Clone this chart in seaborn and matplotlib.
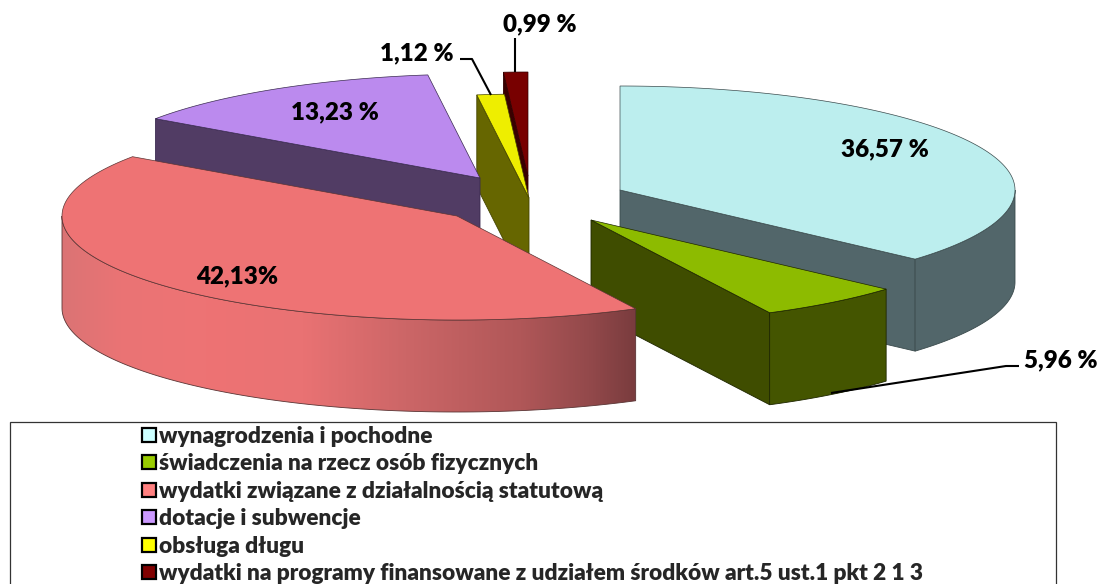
import numpy as np
import matplotlib
matplotlib.use("Agg")
import matplotlib.pyplot as plt
import seaborn as sns
from matplotlib.patches import Patch, Polygon, Rectangle
from matplotlib.colors import LinearSegmentedColormap

# ---- data ----
categories = [
    "wynagrodzenia i pochodne",
    "świadczenia na rzecz osób fizycznych",
    "wydatki związane z działalnością statutową",
    "dotacje i subwencje",
    "obsługa długu",
    "wydatki na programy finansowane z udziałem środków art.5 ust.1 pkt 2 1 3",
]
shares = [36.57, 5.96, 42.13, 13.23, 1.12, 0.99]
value_labels = ["36,57 %", "5,96 %", "42,13%", "13,23 %", "1,12 %", "0,99 %"]

# ---- style ----
sns.set_theme(style="white")
plt.rcParams["font.family"] = ["Lato", "DejaVu Sans"]
legend_colors = sns.color_palette(["#CCFFFF", "#99CC00", "#FF8080", "#CC99FF", "#FFFF00", "#800000"])
top_colors = ["#BCEEEE", "#8DBB00", "#EE7374", "#BB8AEE", "#EEEE00", "#780000"]
wall_colors = ["#52666A", "#3F4D00", "#EE7374", "#513C64", "#666600", "#3A0000"]
arc_colors = ["#52666A", "#445500", None, "#513C64", "#666600", "#3A0000"]
edge_colors = ["#3A4A4C", "#1E2600", "#5A3434", "#3A2A50", "#444400", "#300000"]
apex_x = [620, 591, 457, 480, 529, 528]
apex_y = [190, 220, 216, 178, 198, 176]
label_x = [885, 1061, 237, 335, 417, 540]
label_y = [149, 360, 276, 112, 53, 24]
draw_order = [5, 4, 3, 0, 1, 2]
RX, RY, DEPTH = 395, 104, 92

fig = plt.figure(figsize=(11.02, 5.84), dpi=100, facecolor="white")
ax = fig.add_axes([0, 0, 1, 1])
ax.set_xlim(0, 1102)
ax.set_ylim(584, 0)
ax.axis("off")

edges = np.concatenate([[0], np.cumsum(shares)]) / np.sum(shares) * 2 * np.pi


def rim(i, t):
    return apex_x[i] + RX * np.sin(t), apex_y[i] - RY * np.cos(t)


red_cmap = LinearSegmentedColormap.from_list("red_wall", [
    (0.00, "#DB7374"), (0.10, "#EA7475"), (0.25, "#EE7374"), (0.42, "#E97273"),
    (0.60, "#CC6667"), (0.80, "#B05758"), (0.92, "#93494B"), (1.00, "#7A3C3E")])

z = 2
for i in draw_order:
    t0, t1 = edges[i], edges[i + 1]
    # radial wall
    for t, show in ((t0, np.sin(t0) < -1e-6), (t1, np.sin(t1) > 1e-6)):
        if show:
            x, y = rim(i, t)
            ax.add_patch(Polygon([(apex_x[i], apex_y[i]), (x, y), (x, y + DEPTH),
                                  (apex_x[i], apex_y[i] + DEPTH)], closed=True,
                                 facecolor=wall_colors[i], edgecolor=edge_colors[i],
                                 linewidth=0.6, zorder=z))
            z += 1
    # outer wall
    lo, hi = max(t0, np.pi / 2), min(t1, 3 * np.pi / 2)
    if hi > lo:
        tt = np.linspace(lo, hi, 120)
        x, y = rim(i, tt)
        poly = np.vstack([np.column_stack([x, y]), np.column_stack([x, y + DEPTH])[::-1]])
        if arc_colors[i] is None:
            patch = Polygon(poly, closed=True, facecolor="none", edgecolor=edge_colors[i],
                            linewidth=0.6, zorder=z + 1)
            ax.add_patch(patch)
            im = ax.imshow(np.linspace(0, 1, 256)[None, :], cmap=red_cmap, aspect="auto",
                           extent=[x.min(), x.max(), y.max() + DEPTH, y.min()], zorder=z)
            im.set_clip_path(patch)
            z += 2
        else:
            ax.add_patch(Polygon(poly, closed=True, facecolor=arc_colors[i],
                                 edgecolor=edge_colors[i], linewidth=0.6, zorder=z))
            z += 1
    # top face
    tt = np.linspace(t0, t1, 160)
    x, y = rim(i, tt)
    top = np.vstack([[apex_x[i], apex_y[i]], np.column_stack([x, y])])
    ax.add_patch(Polygon(top, closed=True, facecolor=top_colors[i], edgecolor=edge_colors[i],
                         linewidth=0.5, zorder=z))
    z += 1
ax.set_xlim(0, 1102)
ax.set_ylim(584, 0)

# value labels
for i, lab in enumerate(value_labels):
    ax.text(label_x[i], label_y[i], lab, ha="center", va="center", fontsize=17.4,
            fontweight="heavy", color="black", zorder=100)

# leader lines
leaders = [([1019, 1006, 831], [366, 366, 393]), ([460, 472, 491], [59, 59, 95]), ([515, 515], [38, 72])]
for lx, ly in leaders:
    ax.plot(lx, ly, color="black", lw=1.5, zorder=99, solid_capstyle="butt")

# legend frame and legend
ax.add_patch(Rectangle((10, 422), 1046, 200, facecolor="white", edgecolor="#333333", linewidth=0.9, zorder=90))
handles = [Patch(facecolor=c, edgecolor="black", linewidth=1.6) for c in legend_colors]
leg = ax.legend(handles, categories, loc="upper left", bbox_to_anchor=(136, 420),
                bbox_transform=ax.transData, frameon=False, ncol=1,
                prop={"family": "Lato", "weight": "heavy", "size": 16.25},
                handlelength=0.62, handleheight=0.57, handletextpad=0.16,
                labelspacing=0.29, borderpad=0.25, borderaxespad=0)
leg.set_zorder(95)

fig.savefig("out.png", dpi=100, facecolor="white")
